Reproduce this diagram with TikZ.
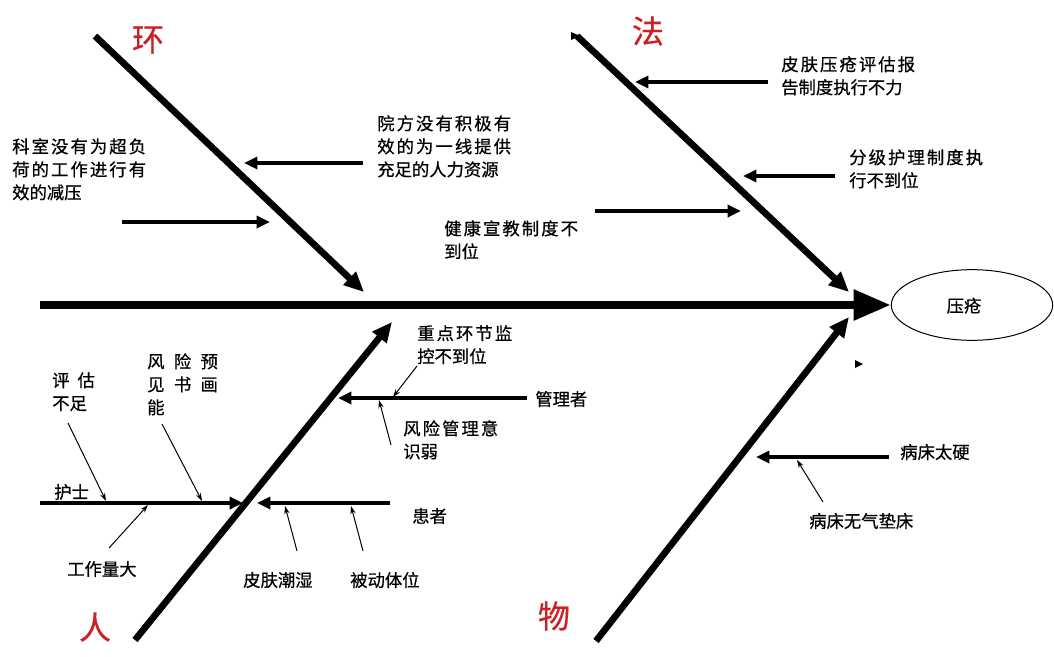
\documentclass[tikz,border=0pt]{standalone}
\usepackage{fontspec}
\setmainfont{Noto Sans CJK SC}[FakeBold=0.6]
\newfontfamily\widecjk[LetterSpace=12,FakeBold=0.6]{Noto Sans CJK SC}
\usetikzlibrary{arrows.meta,shapes.geometric}
\definecolor{catred}{RGB}{204,32,39}

\tikzset{
	spine/.style={line width=6pt,-{Triangle[length=28pt,width=22pt]}},
	bone/.style={line width=5pt,-{Triangle[length=15pt,width=13pt]}},
	cause/.style={line width=3pt,-{Triangle[length=10pt,width=9pt]}},
	hint/.style={line width=0.75pt,-{Stealth[length=6pt,width=4pt]}},
	note/.style={font=\fontsize{13}{17.25}\selectfont,align=left,inner sep=0pt},
	catname/.style={font=\fontsize{24}{24}\selectfont,text=catred,inner sep=0pt},
}

\begin{document}
\begin{tikzpicture}[x=0.75pt,y=-0.75pt]
	\useasboundingbox (0,0) rectangle (1054,657);
	% head and spine
	\node[draw,ellipse,line width=0.75pt,minimum width=121pt,minimum height=53pt,note,text depth=-8pt] (ulcer) at (972,305) {\hspace*{-12pt}压疮};
	\coordinate (spineL) at (40,305);
	\draw[spine] (spineL) -- (ulcer.west);
	% main bones
	\coordinate (envS) at (95,36);   \coordinate (envE) at (364,292);
	\coordinate (lawS) at (577,36);  \coordinate (lawE) at (849,292);
	\coordinate (manS) at (135,640); \coordinate (manE) at (392,322);
	\coordinate (matS) at (596,641); \coordinate (matE) at (849,317);
	\draw[bone] (envS) -- (envE);
	\draw[bone] (lawS) -- (lawE);
	\draw[bone] (manS) -- (manE);
	\draw[bone] (matS) -- (matE);
	\node[catname] (envname) at (148,40) {环};
	\node[catname] (lawname) at (648,31) {法};
	\node[catname] (manname) at (95,627) {人};
	\node[catname] (matname) at (554,616) {物};
	\fill (571,32) -- (580,36) -- (571,40) -- cycle;
	\fill (855,360) -- (863,364) -- (855,368) -- cycle;
	% environment
	\coordinate (hospR) at (363,163);  \coordinate (hospL) at (244,163);
	\coordinate (deptL) at (122,222);  \coordinate (deptR) at (270,222);
	\draw[cause] (hospR) -- (hospL);
	\draw[cause] (deptL) -- (deptR);
	\node[note,anchor=north west] (hosptext) at (377,115) {{\widecjk 院方没有积极有}\\{\widecjk 效的为一线提供}\\充足的人力资源};
	\node[note,anchor=north west] (depttext) at (12,138) {{\widecjk 科室没有为超负}\\{\widecjk 荷的工作进行有}\\效的减压};
	% methods
	\coordinate (reportR) at (768,82);  \coordinate (reportL) at (635,82);
	\coordinate (gradeR) at (835,176);  \coordinate (gradeL) at (743,176);
	\coordinate (eduL) at (595,211);    \coordinate (eduR) at (741,211);
	\draw[cause] (reportR) -- (reportL);
	\draw[cause] (gradeR) -- (gradeL);
	\draw[cause] (eduL) -- (eduR);
	\node[note,anchor=north west] (reporttext) at (781,56) {{\widecjk 皮肤压疮评估报}\\告制度执行不力};
	\node[note,anchor=north west] (gradetext) at (849,149) {{\widecjk 分级护理制度执}\\行不到位};
	\node[note,anchor=north west] (edutext) at (444,220) {{\widecjk 健康宣教制度不}\\到位};
	% people
	\coordinate (mgrR) at (527,398);     \coordinate (mgrL) at (338,398);
	\coordinate (nurseL) at (40,503);    \coordinate (nurseR) at (243,503);
	\coordinate (patientR) at (390,503); \coordinate (patientL) at (257,503);
	\draw[cause] (mgrR) -- (mgrL);
	\draw[cause] (nurseL) -- (nurseR);
	\draw[cause] (patientR) -- (patientL);
	\node[note,anchor=west] (mgrtext) at (535,399) {管理者};
	\node[note,anchor=west] (nursetext) at (54,492) {护士};
	\node[note,anchor=west] (patienttext) at (412,516) {患者};
	\node[note,anchor=north west] (keytext) at (417,325) {{\widecjk 重点环节监}\\控不到位};
	\node[note,anchor=north west] (risktext) at (403,420) {{\widecjk 风险管理意}\\识弱};
	\node[note,anchor=north west] (assesstext) at (52,372) {评\hspace{6pt}估\\不足};
	\node[note,anchor=north west] (forestext) at (147,353) {风\hspace{7pt}险\hspace{7pt}预\\见\hspace{7pt}书\hspace{7pt}画\\能};
	\node[note,anchor=west] (loadtext) at (67,569) {工作量大};
	\node[note,anchor=west] (wettext) at (243,580) {皮肤潮湿};
	\node[note,anchor=west] (passivetext) at (350,580) {被动体位};
	\coordinate (keyS) at (417,366);     \coordinate (keyE) at (393,397);
	\coordinate (riskS) at (391,445);    \coordinate (riskE) at (379,400);
	\coordinate (assessS) at (68,423);   \coordinate (assessE) at (106,501);
	\coordinate (foreS) at (162,424);    \coordinate (foreE) at (202,501);
	\coordinate (loadS) at (109,548);    \coordinate (loadE) at (148,505);
	\coordinate (wetS) at (297,551);     \coordinate (wetE) at (285,506);
	\coordinate (passiveS) at (363,551); \coordinate (passiveE) at (351,506);
	\draw[hint] (keyS) -- (keyE);
	\draw[hint] (riskS) -- (riskE);
	\draw[hint] (assessS) -- (assessE);
	\draw[hint] (foreS) -- (foreE);
	\draw[hint] (loadS) -- (loadE);
	\draw[hint] (wetS) -- (wetE);
	\draw[hint] (passiveS) -- (passiveE);
	% material
	\coordinate (bedR) at (889,457);  \coordinate (bedL) at (756,457);
	\draw[cause] (bedR) -- (bedL);
	\node[note,anchor=west] (hardtext) at (900,452) {病床太硬};
	\node[note,anchor=west] (airtext) at (809,521) {病床无气垫床};
	\coordinate (airS) at (823,502);  \coordinate (airE) at (797,460);
	\draw[hint] (airS) -- (airE);
\end{tikzpicture}
\end{document}
